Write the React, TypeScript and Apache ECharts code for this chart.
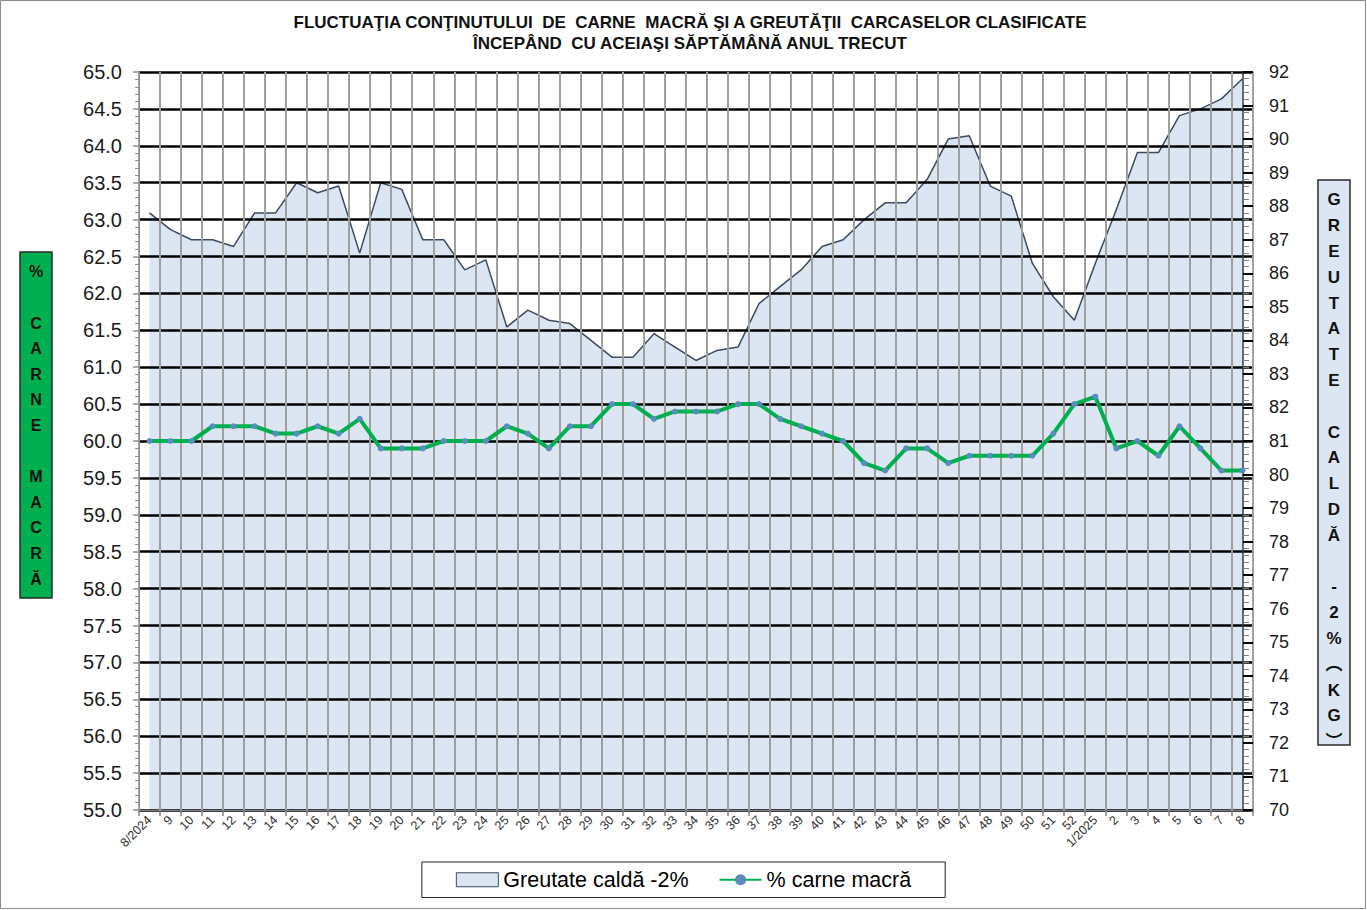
import React, { useEffect, useRef } from "react";
import * as echarts from "echarts";

const weeks: string[] = [
  "8/2024", "9", "10", "11", "12", "13", "14", "15", "16", "17", "18", "19", "20",
  "21", "22", "23", "24", "25", "26", "27", "28", "29", "30", "31", "32", "33",
  "34", "35", "36", "37", "38", "39", "40", "41", "42", "43", "44", "45", "46",
  "47", "48", "49", "50", "51", "52", "1/2025", "2", "3", "4", "5", "6", "7", "8",
];

const carcassWeight: number[] = [
  87.8, 87.3, 87.0, 87.0, 86.8, 87.8, 87.8, 88.7, 88.4, 88.6,
  86.6, 88.7, 88.5, 87.0, 87.0, 86.1, 86.4, 84.4, 84.9, 84.6,
  84.5, 84.0, 83.5, 83.5, 84.2, 83.8, 83.4, 83.7, 83.8, 85.1,
  85.6, 86.1, 86.8, 87.0, 87.6, 88.1, 88.1, 88.8, 90.0, 90.1,
  88.6, 88.3, 86.3, 85.3, 84.6, 86.3, 87.9, 89.6, 89.6, 90.7,
  90.9, 91.2, 91.8,
];

const leanMeat: number[] = [
  60.0, 60.0, 60.0, 60.2, 60.2, 60.2, 60.1, 60.1, 60.2, 60.1,
  60.3, 59.9, 59.9, 59.9, 60.0, 60.0, 60.0, 60.2, 60.1, 59.9,
  60.2, 60.2, 60.5, 60.5, 60.3, 60.4, 60.4, 60.4, 60.5, 60.5,
  60.3, 60.2, 60.1, 60.0, 59.7, 59.6, 59.9, 59.9, 59.7, 59.8,
  59.8, 59.8, 59.8, 60.1, 60.5, 60.6, 59.9, 60.0, 59.8, 60.2,
  59.9, 59.6, 59.6,
];

const titleLines = [
  "FLUCTUAŢIA CONŢINUTULUI  DE  CARNE  MACRĂ ŞI A GREUTĂŢII  CARCASELOR CLASIFICATE",
  "ÎNCEPÂND  CU ACEIAŞI SĂPTĂMÂNĂ ANUL TRECUT",
];
const leftAxisTitle = ["%", "", "C", "A", "R", "N", "E", "", "M", "A", "C", "R", "Ă"];
const rightAxisTitle = ["G", "R", "E", "U", "T", "A", "T", "E", "", "C", "A", "L", "D", "Ă", "", "-", "2", "%", "︵", "K", "G", "︶"];

const seriesNames = ["Greutate caldă -2%", "% carne macră"];

const FONT = "'Liberation Sans', Arial, 'Noto Sans CJK SC', sans-serif";

export default function App() {
  const ref = useRef<HTMLDivElement>(null);

  useEffect(() => {
    document.body.style.margin = "0";
    if (!ref.current) return;
    const chart = echarts.init(ref.current, undefined, { renderer: "svg" });
    const option: any = {
      animation: false,
      backgroundColor: "#ffffff",
      grid: { left: 139, top: 72, width: 1114, height: 738, containLabel: false },
      xAxis: {
        type: "category",
        data: weeks,
        boundaryGap: true,
        z: 3,
        axisLine: { show: true, lineStyle: { color: "#808080", width: 1 } },
        axisTick: { show: true, length: 6, lineStyle: { color: "#808080", width: 1.5 } },
        axisLabel: {
          interval: 0,
          rotate: 45,
          margin: 8,
          fontSize: 12.5,
          color: "#303030",
          fontFamily: FONT,
        },
        splitLine: { show: true, lineStyle: { color: "#a0a0a0", width: 2 } },
      },
      yAxis: [
        {
          type: "value",
          min: 55,
          max: 65,
          interval: 0.5,
          position: "left",
          z: 3,
          axisLine: { show: true, lineStyle: { color: "#909090", width: 1 } },
          axisTick: { show: true, length: 6, lineStyle: { color: "#909090", width: 1.5 } },
          minorTick: { show: true, splitNumber: 5, length: 4, lineStyle: { color: "#909090", width: 1 } },
          axisLabel: {
            formatter: (v: number) => v.toFixed(1),
            fontSize: 20,
            color: "#1a1a1a",
            margin: 17,
            fontFamily: FONT,
          },
          splitLine: { show: true, lineStyle: { color: "#000000", width: 2.5 } },
        },
        {
          type: "value",
          min: 70,
          max: 92,
          interval: 1,
          position: "right",
          offset: -10,
          z: 3,
          axisLine: { show: true, lineStyle: { color: "#2a3a50", width: 1.5 } },
          axisTick: { show: true, length: 10, lineStyle: { color: "#000000", width: 2 } },
          minorTick: { show: true, splitNumber: 5, length: 6, lineStyle: { color: "#808080", width: 1 } },
          axisLabel: {
            fontSize: 18,
            color: "#1a1a1a",
            margin: 26,
            fontFamily: FONT,
          },
          splitLine: { show: false },
        },
      ],
      legend: {
        left: "center",
        top: 862,
        orient: "horizontal",
        borderColor: "#222",
        borderWidth: 1,
        padding: [7, 34, 7, 34],
        itemGap: 30,
        itemWidth: 42,
        itemHeight: 14,
        textStyle: { fontSize: 21.5, color: "#000", fontFamily: FONT },
        data: [
          {
            name: seriesNames[0],
            icon: "rect",
            itemStyle: { color: "#dce6f2", borderColor: "#3a4a60", borderWidth: 1 },
          },
          { name: seriesNames[1] },
        ],
      },
      graphic: [
        {
          type: "rect",
          shape: { x: 0.5, y: 0.5, width: 1365, height: 908 },
          style: { fill: "none", stroke: "#8a8a8a", lineWidth: 1 },
          silent: true,
          z: -10,
        },
        {
          type: "text",
          x: 690,
          y: 12,
          style: {
            text: titleLines.join("\n"),
            textAlign: "center",
            textVerticalAlign: "top",
            font: "bold 17px 'Liberation Sans', Arial, sans-serif",
            lineHeight: 21,
            fill: "#111",
          },
        },
        {
          type: "rect",
          shape: { x: 20, y: 252, width: 32, height: 346 },
          style: { fill: "#00b050", stroke: "#2a2a2a", lineWidth: 1.5 },
        },
        {
          type: "text",
          x: 36,
          y: 259,
          style: {
            text: leftAxisTitle.join("\n"),
            textAlign: "center",
            textVerticalAlign: "top",
            font: "bold 16px " + FONT,
            lineHeight: 25.6,
            fill: "#111",
          },
        },
        {
          type: "rect",
          shape: { x: 1318, y: 180, width: 32, height: 565 },
          style: { fill: "#dce6f2", stroke: "#2a2a2a", lineWidth: 1.5 },
        },
        {
          type: "text",
          x: 1334,
          y: 187,
          style: {
            text: rightAxisTitle.join("\n"),
            textAlign: "center",
            textVerticalAlign: "top",
            font: "bold 17px " + FONT,
            lineHeight: 25.8,
            fill: "#111",
          },
        },
      ],
      series: [
        {
          name: seriesNames[0],
          type: "line",
          yAxisIndex: 1,
          data: carcassWeight,
          z: 1,
          showSymbol: false,
          symbol: "none",
          lineStyle: { color: "#3a4a60", width: 1.5 },
          itemStyle: { color: "#dce6f2" },
          areaStyle: { color: "#dce6f2", opacity: 1 },
        },
        {
          name: seriesNames[1],
          type: "line",
          yAxisIndex: 0,
          data: leanMeat,
          z: 10,
          symbol: "circle",
          symbolSize: 6,
          lineStyle: { color: "#00b050", width: 4 },
          itemStyle: { color: "#5b8bc0", borderWidth: 0 },
        },
      ],
    };
    chart.setOption(option);
    return () => {
      chart.dispose();
    };
  }, []);

  return <div ref={ref} style={{ width: 1367, height: 910 }} />;
}
